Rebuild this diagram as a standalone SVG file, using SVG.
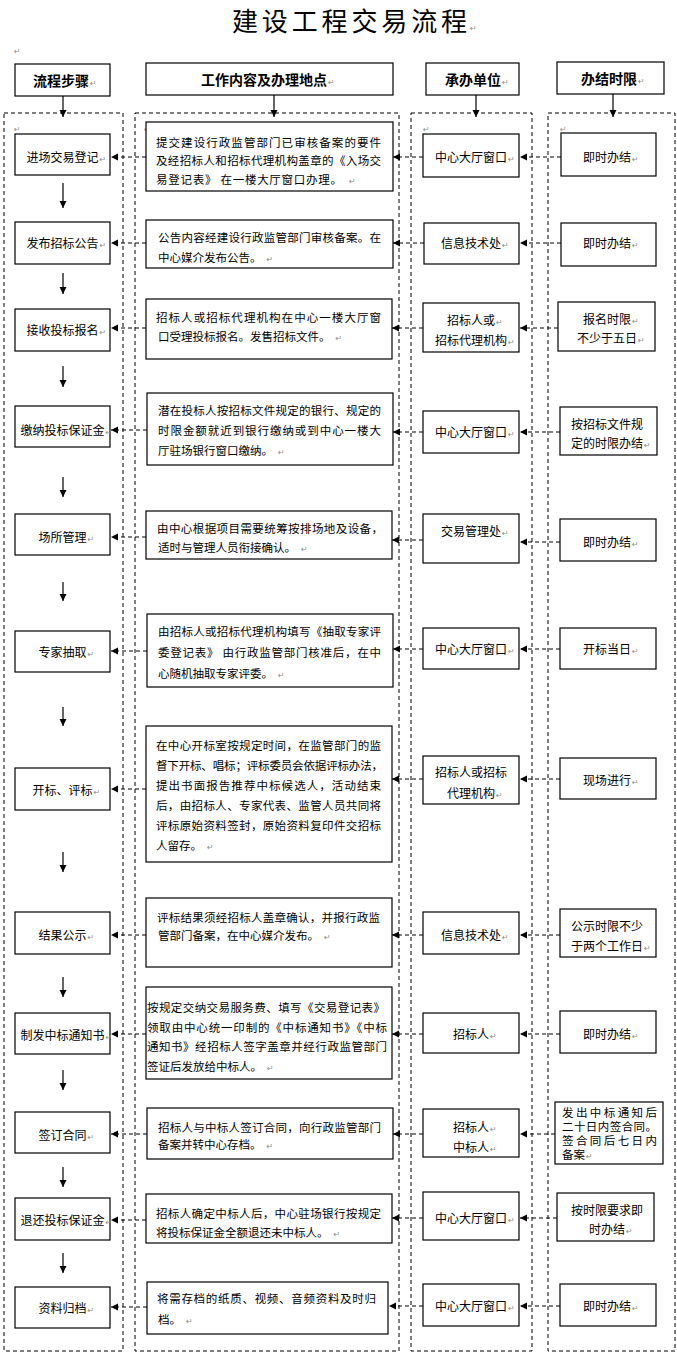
<svg xmlns="http://www.w3.org/2000/svg" width="677" height="1355" viewBox="0 0 677 1355">
<defs>
<style>
text{font-family:"Noto Sans CJK SC","Noto Sans CJK JP",sans-serif;fill:#000}
.t{font-size:12px}
.c{font-size:11.5px}
.h{font-size:14px;font-weight:bold}
.s{font-size:11.5px}
.pm{font-family:"DejaVu Sans",sans-serif;font-size:8px;fill:#8c8c8c;font-weight:normal}
.box{fill:#fff;stroke:#000;stroke-width:1.2}
.cont{fill:none;stroke:#000;stroke-width:1;stroke-dasharray:4 3}
.dl{fill:none;stroke:#000;stroke-width:1;stroke-dasharray:4 3;marker-end:url(#ah)}
.sl{fill:none;stroke:#000;stroke-width:1.2;marker-end:url(#ah)}
</style>
<marker id="ah" markerUnits="userSpaceOnUse" markerWidth="8" markerHeight="8" viewBox="0 0 8 8" refX="7" refY="4" orient="auto"><path d="M0,0.5 L7,4 L0,7.5 Z" fill="#000"/></marker>
</defs>
<rect width="677" height="1355" fill="#fff"/>
<g id="title">
<text x="232" y="31" style="font-size:26px" textLength="235" lengthAdjust="spacing">建设工程交易流程</text>
<text class="pm" x="470" y="31">↵</text>
<text class="pm" x="14" y="54">↵</text>
</g>
<g id="containers">
<rect class="cont" x="4" y="113" width="119" height="1238"/>
<rect class="cont" x="135" y="113" width="264" height="1238"/>
<rect class="cont" x="411" y="113" width="121" height="1238"/>
<rect class="cont" x="548" y="113" width="127" height="1238"/>
<text class="pm" x="14" y="132">↵</text>
<text class="pm" x="144" y="132">↵</text>
<text class="pm" x="423" y="132">↵</text>
<text class="pm" x="560" y="132">↵</text>
</g>
<g id="head-step"><rect class="box" x="15" y="64" width="95" height="32"/><text class="h" x="33" y="85.5">流程步骤<tspan class="pm" dx="1">↵</tspan></text></g>
<g id="head-work"><rect class="box" x="146" y="63" width="247" height="32"/><text class="h" x="201" y="85">工作内容及办理地点<tspan class="pm" dx="1">↵</tspan></text></g>
<g id="head-unit"><rect class="box" x="426" y="63" width="93" height="32"/><text class="h" x="445" y="85">承办单位<tspan class="pm" dx="1">↵</tspan></text></g>
<g id="head-time"><rect class="box" x="557" y="62" width="107" height="32"/><text class="h" x="581" y="83.5">办结时限<tspan class="pm" dx="1">↵</tspan></text></g>

<!-- Row 1 -->
<g id="step1"><rect class="box" x="15" y="134" width="95" height="41"/><text class="t" x="26.5" y="161.5">进场交易登记<tspan class="pm" dx="1">↵</tspan></text></g>
<g id="work1"><rect class="box" x="146" y="122" width="247" height="69"/>
<text class="c" x="156" y="146.5" textLength="225" lengthAdjust="spacing">提交建设行政监管部门已审核备案的要件</text>
<text class="c" x="156" y="165" textLength="225" lengthAdjust="spacing">及经招标人和招标代理机构盖章的《入场交</text>
<text class="c" x="156" y="183.5" textLength="186" lengthAdjust="spacing">易登记表》 在一楼大厅窗口办理。</text>
<text class="pm" x="349" y="183.5">↵</text></g>
<g id="unit1"><rect class="box" x="423" y="134" width="96" height="43"/><text class="t" x="435" y="161.5">中心大厅窗口<tspan class="pm" dx="1">↵</tspan></text></g>
<g id="time1"><rect class="box" x="561" y="133" width="95" height="43"/><text class="t" x="583" y="161.5">即时办结<tspan class="pm" dx="1">↵</tspan></text></g>

<!-- Row 2 -->
<g id="step2"><rect class="box" x="15" y="222" width="95" height="42"/><text class="t" x="26.5" y="247.5">发布招标公告<tspan class="pm" dx="1">↵</tspan></text></g>
<g id="work2"><rect class="box" x="146" y="220" width="247" height="48"/>
<text class="c" x="158" y="241.5" textLength="223" lengthAdjust="spacing">公告内容经建设行政监管部门审核备案。在</text>
<text class="c" x="158" y="261.5">中心媒介发布公告。<tspan class="pm" dx="5">↵</tspan></text></g>
<g id="unit2"><rect class="box" x="424" y="223" width="95" height="41"/><text class="t" x="441" y="247.5">信息技术处<tspan class="pm" dx="1">↵</tspan></text></g>
<g id="time2"><rect class="box" x="561" y="223" width="95" height="43"/><text class="t" x="583" y="247.5">即时办结<tspan class="pm" dx="1">↵</tspan></text></g>

<!-- Row 3 -->
<g id="step3"><rect class="box" x="15" y="309" width="95" height="42"/><text class="t" x="26.5" y="334.5">接收投标报名<tspan class="pm" dx="1">↵</tspan></text></g>
<g id="work3"><rect class="box" x="146" y="299" width="246" height="60"/>
<text class="c" x="156" y="321.5" textLength="225" lengthAdjust="spacing">招标人或招标代理机构在中心一楼大厅窗</text>
<text class="c" x="158" y="340.5">口受理投标报名。发售招标文件。<tspan class="pm" dx="5">↵</tspan></text></g>
<g id="unit3"><rect class="box" x="423" y="303" width="96" height="49"/><text class="t" x="447" y="324.5">招标人或<tspan class="pm" dx="1">↵</tspan></text><text class="t" x="435" y="344.5">招标代理机构<tspan class="pm" dx="1">↵</tspan></text></g>
<g id="time3"><rect class="box" x="558" y="302" width="97" height="49"/><text class="t" x="583" y="323.5">报名时限<tspan class="pm" dx="1">↵</tspan></text><text class="t" x="577" y="342.5">不少于五日<tspan class="pm" dx="1">↵</tspan></text></g>

<!-- Row 4 -->
<g id="step4"><rect class="box" x="15" y="406" width="95" height="41"/><text class="t" x="20.5" y="434.5">缴纳投标保证金<tspan class="pm" dx="1">↵</tspan></text></g>
<g id="work4"><rect class="box" x="147" y="393" width="246" height="72"/>
<text class="c" x="158" y="414.5" textLength="223" lengthAdjust="spacing">潜在投标人按招标文件规定的银行、规定的</text>
<text class="c" x="158" y="434.5" textLength="223" lengthAdjust="spacing">时限金额就近到银行缴纳或到中心一楼大</text>
<text class="c" x="158" y="454.5">厅驻场银行窗口缴纳。<tspan class="pm" dx="5">↵</tspan></text></g>
<g id="unit4"><rect class="box" x="423" y="411" width="96" height="42"/><text class="t" x="435" y="436.5">中心大厅窗口<tspan class="pm" dx="1">↵</tspan></text></g>
<g id="time4"><rect class="box" x="560" y="407" width="97" height="48"/><text class="t" x="571" y="428.5">按招标文件规</text><text class="t" x="571" y="447.5">定的时限办结<tspan class="pm" dx="1">↵</tspan></text></g>

<!-- Row 5 -->
<g id="step5"><rect class="box" x="15" y="514" width="95" height="41"/><text class="t" x="38.5" y="541.5">场所管理<tspan class="pm" dx="1">↵</tspan></text></g>
<g id="work5"><rect class="box" x="146" y="511" width="246" height="48"/>
<text class="c" x="157" y="532.5" textLength="226" lengthAdjust="spacing">由中心根据项目需要统筹按排场地及设备，</text>
<text class="c" x="158" y="551.5">适时与管理人员衔接确认。<tspan class="pm" dx="5">↵</tspan></text></g>
<g id="unit5"><rect class="box" x="423" y="514" width="96" height="49"/><text class="t" x="441" y="535.5">交易管理处<tspan class="pm" dx="1">↵</tspan></text></g>
<g id="time5"><rect class="box" x="560" y="519" width="96" height="42"/><text class="t" x="583" y="546.5">即时办结<tspan class="pm" dx="1">↵</tspan></text></g>

<!-- Row 6 -->
<g id="step6"><rect class="box" x="15" y="631" width="95" height="41"/><text class="t" x="38.5" y="656.5">专家抽取<tspan class="pm" dx="1">↵</tspan></text></g>
<g id="work6"><rect class="box" x="147" y="614" width="246" height="73"/>
<text class="c" x="158" y="635.5" textLength="223" lengthAdjust="spacing">由招标人或招标代理机构填写《抽取专家评</text>
<text class="c" x="158" y="656.5" textLength="223" lengthAdjust="spacing">委登记表》 由行政监管部门核准后，在中</text>
<text class="c" x="158" y="677.5">心随机抽取专家评委。<tspan class="pm" dx="5">↵</tspan></text></g>
<g id="unit6"><rect class="box" x="423" y="628" width="96" height="41"/><text class="t" x="435" y="653.5">中心大厅窗口<tspan class="pm" dx="1">↵</tspan></text></g>
<g id="time6"><rect class="box" x="560" y="628" width="96" height="41"/><text class="t" x="583" y="653.5">开标当日<tspan class="pm" dx="1">↵</tspan></text></g>

<!-- Row 7 -->
<g id="step7"><rect class="box" x="15" y="768" width="95" height="42"/><text class="t" x="32.5" y="794.5">开标、评标<tspan class="pm" dx="1">↵</tspan></text></g>
<g id="work7"><rect class="box" x="146" y="726" width="246" height="136"/>
<text class="c" x="156" y="749.5" textLength="225" lengthAdjust="spacing">在中心开标室按规定时间，在监管部门的监</text>
<text class="c" x="156" y="769.5" textLength="227" lengthAdjust="spacing">督下开标、唱标；评标委员会依据评标办法，</text>
<text class="c" x="156" y="789.5" textLength="225" lengthAdjust="spacing">提出书面报告推荐中标候选人，活动结束</text>
<text class="c" x="156" y="809.5" textLength="225" lengthAdjust="spacing">后，由招标人、专家代表、监管人员共同将</text>
<text class="c" x="156" y="829.5" textLength="225" lengthAdjust="spacing">评标原始资料签封，原始资料复印件交招标</text>
<text class="c" x="156" y="850">人留存。<tspan class="pm" dx="5">↵</tspan></text></g>
<g id="unit7"><rect class="box" x="423" y="756" width="96" height="48"/><text class="t" x="435" y="776.5">招标人或招标</text><text class="t" x="447" y="797.5">代理机构<tspan class="pm" dx="1">↵</tspan></text></g>
<g id="time7"><rect class="box" x="560" y="758" width="96" height="41"/><text class="t" x="583" y="784.5">现场进行<tspan class="pm" dx="1">↵</tspan></text></g>

<!-- Row 8 -->
<g id="step8"><rect class="box" x="15" y="912" width="95" height="42"/><text class="t" x="38.5" y="939.5">结果公示<tspan class="pm" dx="1">↵</tspan></text></g>
<g id="work8"><rect class="box" x="146" y="898" width="246" height="69"/>
<text class="c" x="157" y="921.5" textLength="223" lengthAdjust="spacing">评标结果须经招标人盖章确认，并报行政监</text>
<text class="c" x="158" y="939.5">管部门备案，在中心媒介发布。<tspan class="pm" dx="5">↵</tspan></text></g>
<g id="unit8"><rect class="box" x="423" y="912" width="96" height="42"/><text class="t" x="441" y="939.5">信息技术处<tspan class="pm" dx="1">↵</tspan></text></g>
<g id="time8"><rect class="box" x="560" y="909" width="96" height="48"/><text class="t" x="571" y="930.5">公示时限不少</text><text class="t" x="571" y="950.5">于两个工作日<tspan class="pm" dx="1">↵</tspan></text></g>

<!-- Row 9 -->
<g id="step9"><rect class="box" x="15" y="1013" width="95" height="41"/><text class="t" x="20.5" y="1039.5">制发中标通知书<tspan class="pm" dx="1">↵</tspan></text></g>
<g id="work9"><rect class="box" x="146" y="987" width="246" height="92"/>
<text class="c" x="147" y="1011.5" textLength="238" lengthAdjust="spacing">按规定交纳交易服务费、填写《交易登记表》</text>
<text class="c" x="147" y="1031.5" textLength="240" lengthAdjust="spacing">领取由中心统一印制的《中标通知书》《中标</text>
<text class="c" x="147" y="1050.5" textLength="240" lengthAdjust="spacing">通知书》经招标人签字盖章并经行政监管部门</text>
<text class="c" x="147" y="1070.5">签证后发放给中标人。<tspan class="pm" dx="5">↵</tspan></text></g>
<g id="unit9"><rect class="box" x="423" y="1013" width="96" height="40"/><text class="t" x="453" y="1038.5">招标人<tspan class="pm" dx="1">↵</tspan></text></g>
<g id="time9"><rect class="box" x="560" y="1011" width="96" height="42"/><text class="t" x="583" y="1038.5">即时办结<tspan class="pm" dx="1">↵</tspan></text></g>

<!-- Row 10 -->
<g id="step10"><rect class="box" x="15" y="1112" width="95" height="41"/><text class="t" x="38.5" y="1139.5">签订合同<tspan class="pm" dx="1">↵</tspan></text></g>
<g id="work10"><rect class="box" x="147" y="1108" width="246" height="51"/>
<text class="c" x="158" y="1131.5" textLength="223" lengthAdjust="spacing">招标人与中标人签订合同，向行政监管部门</text>
<text class="c" x="158" y="1148.5">备案并转中心存档。<tspan class="pm" dx="5">↵</tspan></text></g>
<g id="unit10"><rect class="box" x="423" y="1109" width="96" height="48"/><text class="t" x="453" y="1131.5">招标人<tspan class="pm" dx="1">↵</tspan></text><text class="t" x="453" y="1151.5">中标人<tspan class="pm" dx="1">↵</tspan></text></g>
<g id="time10"><rect class="box" x="555" y="1102" width="108" height="62"/>
<text class="s" x="562" y="1116.5" textLength="95" lengthAdjust="spacing">发出中标通知后</text>
<text class="s" x="562" y="1130.5" textLength="95" lengthAdjust="spacing">二十日内签合同。</text>
<text class="s" x="562" y="1144.5" textLength="95" lengthAdjust="spacing">签合同后七日内</text>
<text class="s" x="562" y="1158.5">备案<tspan class="pm" dx="1">↵</tspan></text></g>

<!-- Row 11 -->
<g id="step11"><rect class="box" x="15" y="1198" width="95" height="42"/><text class="t" x="20.5" y="1224.5">退还投标保证金<tspan class="pm" dx="1">↵</tspan></text></g>
<g id="work11"><rect class="box" x="146" y="1194" width="246" height="49"/>
<text class="c" x="156" y="1217.5" textLength="225" lengthAdjust="spacing">招标人确定中标人后，中心驻场银行按规定</text>
<text class="c" x="156" y="1236.5">将投标保证金全额退还未中标人。<tspan class="pm" dx="5">↵</tspan></text></g>
<g id="unit11"><rect class="box" x="423" y="1192" width="96" height="48"/><text class="t" x="435" y="1222.5">中心大厅窗口<tspan class="pm" dx="1">↵</tspan></text></g>
<g id="time11"><rect class="box" x="557" y="1193" width="97" height="48"/><text class="t" x="571" y="1214.5">按时限要求即</text><text class="t" x="589" y="1233.5">时办结<tspan class="pm" dx="1">↵</tspan></text></g>

<!-- Row 12 -->
<g id="step12"><rect class="box" x="15" y="1287" width="95" height="41"/><text class="t" x="38.5" y="1312.5">资料归档<tspan class="pm" dx="1">↵</tspan></text></g>
<g id="work12"><rect class="box" x="147" y="1282" width="241" height="52"/>
<text class="c" x="157" y="1302.5" textLength="219" lengthAdjust="spacing">将需存档的纸质、视频、音频资料及时归</text>
<text class="c" x="158" y="1323.5">档。<tspan class="pm" dx="5">↵</tspan></text></g>
<g id="unit12"><rect class="box" x="423" y="1284" width="96" height="42"/><text class="t" x="435" y="1310.5">中心大厅窗口<tspan class="pm" dx="1">↵</tspan></text></g>
<g id="time12"><rect class="box" x="560" y="1284" width="96" height="42"/><text class="t" x="583" y="1310.5">即时办结<tspan class="pm" dx="1">↵</tspan></text></g>

<g id="connectors">
<path class="sl" d="M63,96 V117"/>
<path class="sl" d="M274,95 V117"/>
<path class="sl" d="M476,95 V117"/>
<path class="sl" d="M613,94 V117"/>
<path class="sl" d="M63,183 V208"/>
<path class="sl" d="M63,273 V294"/>
<path class="sl" d="M63,366 V387"/>
<path class="sl" d="M63,477 V497"/>
<path class="sl" d="M63,582 V601"/>
<path class="sl" d="M63,707 V726"/>
<path class="sl" d="M63,852 V872"/>
<path class="sl" d="M63,977 V997"/>
<path class="sl" d="M63,1070 V1090"/>
<path class="sl" d="M63,1167 V1187"/>
<path class="sl" d="M63,1253 V1273"/>

<path class="dl" d="M146,157 H111"/><path class="dl" d="M423,157 H393"/><path class="dl" d="M561,157 H520"/>
<path class="dl" d="M146,243 H111"/><path class="dl" d="M424,243 H393"/><path class="dl" d="M561,243 H520"/>
<path class="dl" d="M146,328 H111"/><path class="dl" d="M423,328 H392"/><path class="dl" d="M558,328 H520"/>
<path class="dl" d="M147,430 H111"/><path class="dl" d="M423,432 H393"/><path class="dl" d="M560,432 H520"/>
<path class="dl" d="M146,537 H111"/><path class="dl" d="M423,540 H392"/><path class="dl" d="M560,542 H520"/>
<path class="dl" d="M147,651 H111"/><path class="dl" d="M423,649 H393"/><path class="dl" d="M560,649 H520"/>
<path class="dl" d="M146,789 H111"/><path class="dl" d="M423,779 H392"/><path class="dl" d="M560,779 H520"/>
<path class="dl" d="M146,935 H111"/><path class="dl" d="M423,935 H392"/><path class="dl" d="M560,935 H520"/>
<path class="dl" d="M146,1034 H111"/><path class="dl" d="M423,1034 H392"/><path class="dl" d="M560,1034 H520"/>
<path class="dl" d="M147,1134 H111"/><path class="dl" d="M423,1134 H393"/><path class="dl" d="M555,1134 H520"/>
<path class="dl" d="M146,1220 H111"/><path class="dl" d="M423,1218 H392"/><path class="dl" d="M557,1218 H520"/>
<path class="dl" d="M147,1307 H111"/><path class="dl" d="M423,1306 H389"/><path class="dl" d="M560,1306 H520"/>
</g>
</svg>
